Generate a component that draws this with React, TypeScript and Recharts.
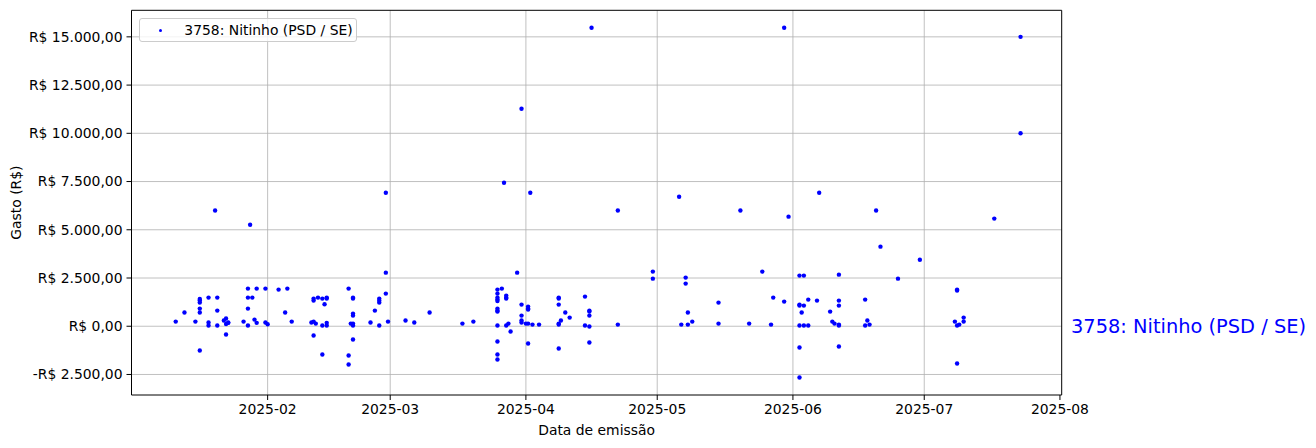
import React from "react";
import { ScatterChart, Scatter, XAxis, YAxis, ReferenceLine } from "recharts";

type Ponto = [string, number];

// [data de emissão, gasto em R$], por mês
const janeiro: Ponto[] = [
  ["2025-01-11", 240], ["2025-01-13", 710], ["2025-01-15T12:00", 240],
  ["2025-01-16T12:00", 1415], ["2025-01-16T12:00", 1330], ["2025-01-16T12:00", 1225],
  ["2025-01-16T12:00", 915], ["2025-01-16T12:00", 710], ["2025-01-16T12:00", -1260],
  ["2025-01-18T12:00", 1485], ["2025-01-18T12:00", 190], ["2025-01-18T12:00", 35],
  ["2025-01-20", 6000], ["2025-01-20T12:00", 1485], ["2025-01-20T12:00", 810],
  ["2025-01-20T12:00", 35], ["2025-01-22", 295], ["2025-01-22T12:00", 400],
  ["2025-01-22T12:00", 120], ["2025-01-22T12:00", -430], ["2025-01-23", 190],
  ["2025-01-23", 175], ["2025-01-26T12:00", 240], ["2025-01-27T12:00", 1950],
  ["2025-01-27T12:00", 1485], ["2025-01-27T12:00", 915], ["2025-01-27T12:00", 35],
  ["2025-01-28", 5260], ["2025-01-28T12:00", 1485], ["2025-01-29", 345],
  ["2025-01-29T12:00", 1950], ["2025-01-29T12:00", 175], ["2025-01-31T12:00", 190],
  ["2025-01-31T12:00", 1950],
];

const fevereiro: Ponto[] = [
  ["2025-02-01", 105], ["2025-02-03T12:00", 1900], ["2025-02-05", 710],
  ["2025-02-05T12:00", 1950], ["2025-02-06T12:00", 240], ["2025-02-11", 190],
  ["2025-02-11T12:00", 240], ["2025-02-11T12:00", 1433], ["2025-02-11T12:00", 1329],
  ["2025-02-11T12:00", -483], ["2025-02-12", 138], ["2025-02-12T12:00", 1485],
  ["2025-02-13T12:00", 1433], ["2025-02-13T12:00", 35], ["2025-02-13T12:00", -1467],
  ["2025-02-14", 1139], ["2025-02-14T12:00", 1485], ["2025-02-14T12:00", 1433],
  ["2025-02-14T12:00", 35], ["2025-02-14T12:00", 175], ["2025-02-19T12:00", 1950],
  ["2025-02-19T12:00", -1519], ["2025-02-19T12:00", -1985], ["2025-02-20", 138],
  ["2025-02-20T12:00", 1485], ["2025-02-20T12:00", 1433], ["2025-02-20T12:00", 656],
  ["2025-02-20T12:00", 552], ["2025-02-20T12:00", 138], ["2025-02-20T12:00", 35],
  ["2025-02-20T12:00", -690], ["2025-02-24T12:00", 190], ["2025-02-25T12:00", 811],
  ["2025-02-26T12:00", 1433], ["2025-02-26T12:00", 1329], ["2025-02-26T12:00", 1226],
  ["2025-02-26T12:00", 35], ["2025-02-28", 6920], ["2025-02-28", 2779],
  ["2025-02-28", 1692], ["2025-02-28T12:00", 240],
];

const marco: Ponto[] = [
  ["2025-03-04T12:00", 295], ["2025-03-06T12:00", 190], ["2025-03-10", 710],
  ["2025-03-17T12:00", 138], ["2025-03-20", 240], ["2025-03-25T12:00", 1899],
  ["2025-03-25T12:00", 1692], ["2025-03-25T12:00", 1485], ["2025-03-25T12:00", 1381],
  ["2025-03-25T12:00", 1312], ["2025-03-25T12:00", 915], ["2025-03-25T12:00", 811],
  ["2025-03-25T12:00", 760], ["2025-03-25T12:00", 35], ["2025-03-25T12:00", -794],
  ["2025-03-25T12:00", -1467], ["2025-03-25T12:00", -1726], ["2025-03-26T12:00", 1950],
  ["2025-03-27", 7440], ["2025-03-27T12:00", 1588], ["2025-03-27T12:00", 1485],
  ["2025-03-27T12:00", 1433], ["2025-03-27T12:00", 35], ["2025-03-28", 138],
  ["2025-03-28T12:00", -276], ["2025-03-30", 2779], ["2025-03-31", 11270],
  ["2025-03-31", 1122], ["2025-03-31", 552], ["2025-03-31", 295], ["2025-03-31", 190],
];

const abril: Ponto[] = [
  ["2025-04-01", 138], ["2025-04-01T12:00", 1018], ["2025-04-01T12:00", 915],
  ["2025-04-01T12:00", 863], ["2025-04-01T12:00", 138], ["2025-04-01T12:00", -897],
  ["2025-04-02", 6920], ["2025-04-02T12:00", 86], ["2025-04-04", 86],
  ["2025-04-08T12:00", 1485], ["2025-04-08T12:00", 1433], ["2025-04-08T12:00", 1122],
  ["2025-04-08T12:00", 138], ["2025-04-08T12:00", 86], ["2025-04-08T12:00", -1156],
  ["2025-04-09", 295], ["2025-04-10", 710], ["2025-04-11", 449],
  ["2025-04-14T12:00", 1536], ["2025-04-14T12:00", 35], ["2025-04-15T12:00", 811],
  ["2025-04-15T12:00", 760], ["2025-04-15T12:00", 552], ["2025-04-15T12:00", -17],
  ["2025-04-15T12:00", -846], ["2025-04-16", 15470], ["2025-04-22", 6000],
  ["2025-04-22", 86], ["2025-04-30", 2831], ["2025-04-30", 2468],
];

const maio: Ponto[] = [
  ["2025-05-06", 6710], ["2025-05-06T12:00", 86], ["2025-05-07T12:00", 2520],
  ["2025-05-07T12:00", 2209], ["2025-05-08", 86], ["2025-05-08", 710],
  ["2025-05-09", 240], ["2025-05-15", 1226], ["2025-05-15", 138], ["2025-05-20", 6000],
  ["2025-05-22", 138], ["2025-05-25", 2831], ["2025-05-27", 86],
  ["2025-05-27T12:00", 1485], ["2025-05-30", 1277], ["2025-05-30", 15470],
  ["2025-05-31", 5680],
];

const junho: Ponto[] = [
  ["2025-06-02T12:00", 2624], ["2025-06-02T12:00", 1122], ["2025-06-02T12:00", 1070],
  ["2025-06-02T12:00", 35], ["2025-06-02T12:00", -1105], ["2025-06-02T12:00", -2658],
  ["2025-06-03", 710], ["2025-06-03T12:00", 2624], ["2025-06-03T12:00", 1070],
  ["2025-06-03T12:00", 35], ["2025-06-04T12:00", 1381], ["2025-06-04T12:00", 35],
  ["2025-06-06T12:00", 1329], ["2025-06-07", 6920], ["2025-06-09T12:00", 760],
  ["2025-06-10", 240], ["2025-06-10T12:00", 138], ["2025-06-11T12:00", 2675],
  ["2025-06-11T12:00", 1329], ["2025-06-11T12:00", 1070], ["2025-06-11T12:00", 86],
  ["2025-06-11T12:00", 35], ["2025-06-11T12:00", -1053], ["2025-06-17T12:00", 1381],
  ["2025-06-17T12:00", 35], ["2025-06-18", 295], ["2025-06-18T12:00", 86],
  ["2025-06-20", 6000], ["2025-06-21", 4125], ["2025-06-25", 2468], ["2025-06-30", 3450],
];

const julho: Ponto[] = [
  ["2025-07-08", 240], ["2025-07-08T12:00", 1899], ["2025-07-08T12:00", 1847],
  ["2025-07-08T12:00", 35], ["2025-07-08T12:00", -1933], ["2025-07-09", 86],
  ["2025-07-10", 449], ["2025-07-10", 240], ["2025-07-17", 5580],
  ["2025-07-23", 15000], ["2025-07-23", 10000],
];

const xTickDates = ["2025-02-01", "2025-03-01", "2025-04-01", "2025-05-01", "2025-06-01", "2025-07-01", "2025-08-01"];
const yTicks = [-2500, 0, 2500, 5000, 7500, 10000, 12500, 15000];
const serieNome = "3758: Nitinho (PSD / SE)";

const DAY = 86400000;
const ts = (s: string) => Date.parse(s.length === 10 ? `${s}T00:00:00Z` : `${s}:00Z`);

const pontos = [...janeiro, ...fevereiro, ...marco, ...abril, ...maio, ...junho, ...julho].map(
  ([d, v]) => ({ t: ts(d), v })
);
const xTicks = xTickDates.map(ts);
const inicio = ts("2025-01-01");
const xDomain: [number, number] = [inicio - 0.1 * DAY, inicio + 212.4 * DAY];
const yDomain: [number, number] = [-3564, 16376];

const FONT = "'DejaVu Sans', sans-serif";

function formatBRL(v: number) {
  const n = Math.round(Math.abs(v))
    .toString()
    .replace(/\B(?=(\d{3})+(?!\d))/g, ".");
  return `${v < 0 ? "-" : ""}R$ ${n},00`;
}

function formatMes(t: number) {
  return new Date(t).toISOString().slice(0, 7);
}

function YLabel(props: any) {
  const { viewBox } = props;
  const x = viewBox.x + 8;
  const y = viewBox.y + viewBox.height / 2;
  return (
    <text x={x} y={y} transform={`rotate(-90, ${x}, ${y})`} textAnchor="middle" dominantBaseline="central" fontSize={13.9} fill="#000" fontFamily={FONT}>
      Gasto (R$)
    </text>
  );
}

function XLabel(props: any) {
  const { viewBox } = props;
  return (
    <text x={viewBox.x + viewBox.width / 2} y={viewBox.y + 35} textAnchor="middle" dominantBaseline="central" fontSize={13.9} fill="#000" fontFamily={FONT}>
      Data de emissão
    </text>
  );
}

const Dot = (p: any) => <circle cx={p.cx} cy={p.cy} r={2.2} fill="#0000ff" />;

export default function App() {
  const tick = { fontSize: 13.9, fill: "#000", fontFamily: FONT };
  return (
    <div style={{ position: "relative", width: 1300, height: 432, fontFamily: FONT }}>
      <ScatterChart width={1300} height={432} margin={{ top: 2.3, right: 246.3, bottom: 0, left: 0 }}>
        <XAxis
          type="number"
          dataKey="t"
          domain={xDomain}
          ticks={xTicks}
          tickFormatter={formatMes}
          allowDataOverflow
          height={45}
          tick={tick}
          tickSize={5}
          tickMargin={4}
          axisLine={{ stroke: "#000", strokeWidth: 1 }}
          tickLine={{ stroke: "#000", strokeWidth: 1 }}
          label={<XLabel />}
        />
        <YAxis
          type="number"
          dataKey="v"
          domain={yDomain}
          ticks={yTicks}
          tickFormatter={formatBRL}
          allowDataOverflow
          width={123.5}
          tick={tick}
          tickSize={5}
          tickMargin={4}
          axisLine={{ stroke: "#000", strokeWidth: 1 }}
          tickLine={{ stroke: "#000", strokeWidth: 1 }}
          label={<YLabel />}
        />
        <Scatter name={serieNome} data={pontos} fill="#0000ff" shape={Dot} isAnimationActive={false} />
        {xTicks.slice(0, -1).map((t) => (
          <ReferenceLine key={`x${t}`} x={t} stroke="#b0b0b0" strokeWidth={0.8} />
        ))}
        {yTicks.map((v) => (
          <ReferenceLine key={`y${v}`} y={v} stroke="#b0b0b0" strokeWidth={0.8} />
        ))}
        <ReferenceLine y={yDomain[1]} stroke="#000" strokeWidth={1} />
        <ReferenceLine x={xDomain[1]} stroke="#000" strokeWidth={1} />
      </ScatterChart>

      <div
        style={{
          position: "absolute",
          left: 131.3,
          top: 9.7,
          width: 217.7,
          height: 24,
          boxSizing: "border-box",
          border: "1px solid #cccccc",
          borderRadius: 3,
          background: "rgba(255,255,255,0.8)",
        }}
      >
        <div style={{ position: "absolute", left: 18.5, top: 10.8, width: 3, height: 3, borderRadius: "50%", background: "#0000ff" }} />
        <div style={{ position: "absolute", left: 44, top: 3, fontSize: 13.9, lineHeight: "16px", color: "#000", whiteSpace: "nowrap" }}>
          {serieNome}
        </div>
      </div>

      <div style={{ position: "absolute", left: 1063, top: 307.5, fontSize: 19.4, lineHeight: "21px", color: "#0000ff", whiteSpace: "nowrap" }}>
        {serieNome}
      </div>
    </div>
  );
}
